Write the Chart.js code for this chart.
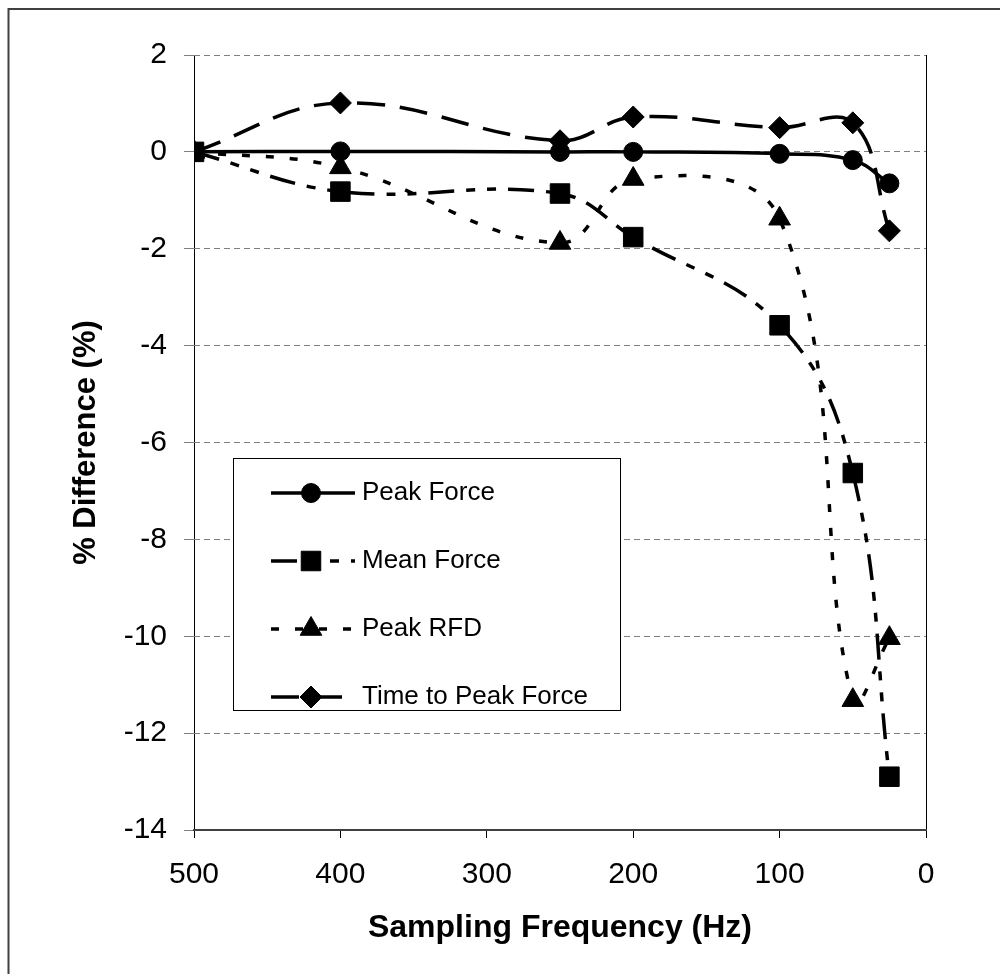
<!DOCTYPE html>
<html>
<head>
<meta charset="utf-8">
<script src="https://cdn.jsdelivr.net/npm/chart.js@4"></script>
<style>
body { margin: 0; background: #fff; }
</style>
</head>
<body>
<canvas id="freqChart" width="1000" height="974"></canvas>
<script>
// Sampling frequencies (Hz) and % difference for each measure
const frequencies = [500, 400, 250, 200, 100, 50, 25];
const peakForce = [0, 0.01, 0.0, 0.0, -0.04, -0.17, -0.65];
const meanForce = [0, -0.82, -0.86, -1.76, -3.58, -6.63, -12.9];
const peakRFD = [0, -0.32, -1.88, -0.56, -1.38, -11.32, -10.04];
const timeToPeak = [0, 1.01, 0.23, 0.72, 0.5, 0.6, -1.63];

const FONT = "'Liberation Sans', Arial, sans-serif";

function toPoints(values) {
    return frequencies.map((f, i) => ({ x: f, y: values[i] }));
}

const seriesStyles = [
    { label: 'Peak Force', data: peakForce, dash: [], pointStyle: 'circle', radius: 9.5 },
    { label: 'Mean Force', data: meanForce, dash: [26, 12, 9, 12, 9, 12], pointStyle: 'rect', radius: 13.8 },
    { label: 'Peak RFD', data: peakRFD, dash: [8, 16], pointStyle: 'triangle', radius: 12.5 },
    { label: 'Time to Peak Force', data: timeToPeak, dash: [28, 15], pointStyle: 'rectRot', radius: 11 }
];

// Outer frame of the figure
const framePlugin = {
    id: 'frame',
    beforeDraw(chart) {
        const ctx = chart.ctx;
        ctx.save();
        ctx.strokeStyle = '#404040';
        ctx.lineWidth = 2;
        ctx.beginPath();
        ctx.moveTo(8.5, 1000);
        ctx.lineTo(8.5, 9);
        ctx.lineTo(1000, 9);
        ctx.stroke();
        ctx.restore();
    }
};

// Legend box with line + marker samples like the original
const legendBoxPlugin = {
    id: 'legendBox',
    afterDraw(chart) {
        const ctx = chart.ctx;
        ctx.save();
        ctx.fillStyle = '#fff';
        ctx.fillRect(233.5, 458.5, 387, 252);
        ctx.strokeStyle = '#000';
        ctx.lineWidth = 1;
        ctx.strokeRect(233.5, 458.5, 387, 252);

        const rows = [493, 561, 629, 697];
        chart.data.datasets.forEach((ds, i) => {
            const y = rows[i];
            ctx.save();
            ctx.strokeStyle = '#000';
            ctx.lineWidth = 3.5;
            ctx.setLineDash(ds.borderDash || []);
            ctx.beginPath();
            ctx.moveTo(271, y);
            ctx.lineTo(355, y);
            ctx.stroke();
            ctx.restore();

            ctx.save();
            ctx.fillStyle = '#000';
            ctx.strokeStyle = '#000';
            ctx.lineWidth = 1;
            Chart.helpers.drawPoint(ctx, {
                pointStyle: ds.pointStyle,
                radius: ds.pointRadius,
                rotation: 0,
                borderWidth: 1
            }, 311, y);
            ctx.restore();

            ctx.fillStyle = '#000';
            ctx.font = '26px ' + FONT;
            ctx.textAlign = 'left';
            ctx.textBaseline = 'middle';
            ctx.fillText(ds.label, 362, y);
        });
        ctx.restore();
    }
};

const datasets = seriesStyles.map((s, i) => ({
    label: s.label,
    data: toPoints(s.data),
    borderColor: '#000',
    backgroundColor: '#000',
    borderWidth: 3.5,
    borderDash: s.dash,
    tension: 0.4,
    fill: false,
    pointStyle: s.pointStyle,
    pointRadius: s.radius,
    pointBorderWidth: 1,
    pointBackgroundColor: '#000',
    pointBorderColor: '#000',
    order: seriesStyles.length - i
}));

const ctx = document.getElementById('freqChart').getContext('2d');
new Chart(ctx, {
    type: 'line',
    data: { datasets: datasets },
    plugins: [framePlugin, legendBoxPlugin],
    options: {
        responsive: false,
        animation: false,
        events: [],
        layout: {
            padding: { left: 68, top: 55, right: 74, bottom: 27 }
        },
        plugins: {
            legend: { display: false },
            tooltip: { enabled: false }
        },
        scales: {
            x: {
                type: 'linear',
                reverse: true,
                min: 0,
                max: 500,
                afterFit: s => { s.height = 117; },
                ticks: {
                    stepSize: 100,
                    padding: 19,
                    color: '#000',
                    font: { family: FONT, size: 30 }
                },
                grid: {
                    color: c => (c.tick && (c.tick.value === 0 || c.tick.value === 500)) ? '#000' : 'rgba(0,0,0,0)',
                    tickColor: '#000',
                    tickLength: 8,
                    lineWidth: 1
                },
                border: { display: true, color: '#404040', width: 2 },
                title: {
                    display: true,
                    text: 'Sampling Frequency (Hz)',
                    color: '#000',
                    padding: { top: 0, bottom: 0 },
                    font: { family: FONT, size: 32, weight: 'bold' }
                }
            },
            y: {
                min: -14,
                max: 2,
                afterFit: s => { s.width = 126; },
                ticks: {
                    stepSize: 2,
                    padding: 17,
                    color: '#000',
                    font: { family: FONT, size: 30 }
                },
                grid: {
                    color: c => (c.tick && c.tick.value === -14) ? 'rgba(0,0,0,0)' : '#808080',
                    tickColor: '#808080',
                    tickLength: 10,
                    lineWidth: 1
                },
                border: { display: false, dash: [6, 4] },
                title: {
                    display: true,
                    text: '% Difference (%)',
                    color: '#000',
                    padding: { top: 0, bottom: 0 },
                    font: { family: FONT, size: 31, weight: 'bold' }
                }
            }
        }
    }
});
</script>
</body>
</html>
